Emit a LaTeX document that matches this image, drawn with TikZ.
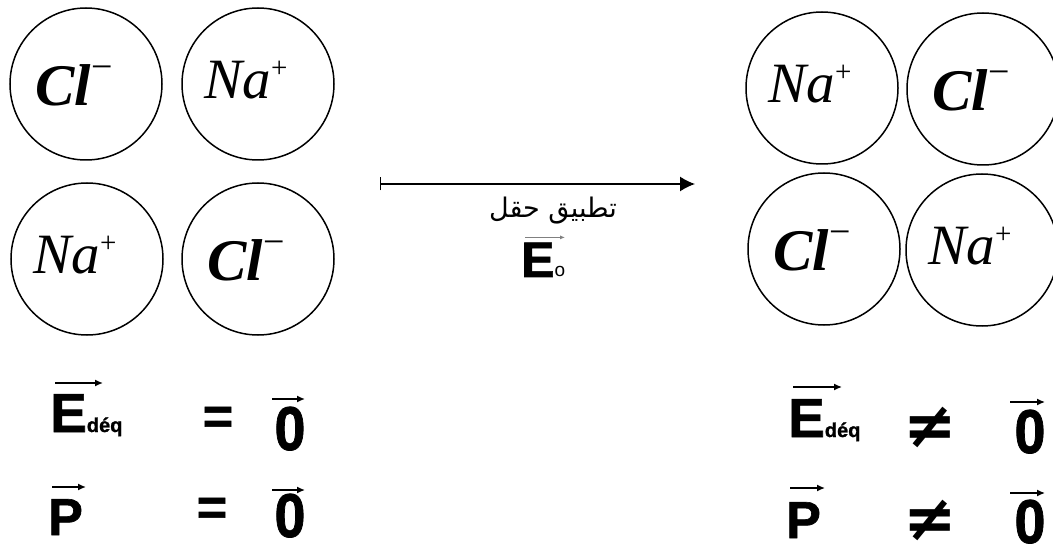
\documentclass[tikz,border=0pt]{standalone}
\usepackage{fontspec}
\setmainfont{Liberation Serif}
\newfontfamily\lsansbf{Liberation Sans Bold}[FakeBold=1.2]
\newfontfamily\lsanszero{Liberation Sans Bold}[FakeBold=1.2,FakeStretch=0.9]
\newfontfamily\lsans{Liberation Sans}
\newfontfamily\dvsansbf{DejaVu Sans Bold}
\newfontfamily\arabicfont[Script=Arabic]{DejaVu Sans}
\TeXXeTstate=1
\usetikzlibrary{arrows.meta,calc}
\newcommand\ClIon{{\fontsize{59}{59}\selectfont\bfseries\itshape Cl}\raisebox{26pt}{\fontsize{38}{38}\selectfont −}}
\newcommand\NaIon{{\fontsize{57}{57}\selectfont\itshape Na}\raisebox{21pt}{\fontsize{29}{29}\selectfont +}}
\tikzset{
  ion/.style={circle, draw, line width=1.5pt, minimum size=152pt, inner sep=0pt},
  lbl/.style={anchor=base, inner sep=0pt},
  bigsym/.style={inner sep=0pt, anchor=base, font=\lsansbf\fontsize{52}{52}\selectfont},
  zerosym/.style={inner sep=0pt, anchor=base, font=\lsanszero\fontsize{62}{62}\selectfont},
  neqsym/.style={inner sep=0pt, anchor=center, font=\dvsansbf\fontsize{64}{64}\selectfont},
  vecarrow/.style={-{Latex[length=8pt,width=7pt]}, line width=1.4pt},
  mainarrow/.style={{Bar[width=13pt]}-{Latex[length=15pt,width=15pt]}, line width=1.4pt},
}
\begin{document}
\begin{tikzpicture}[x=1pt,y=-1pt]
\useasboundingbox (0,0) rectangle (1053,548);
% circles left
\node[ion] (c1) at (86,84) {};
\node[ion] (c2) at (258,84) {};
\node[ion] (c3) at (87,259) {};
\node[ion] (c4) at (258,259) {};
% circles right
\node[ion] (c5) at (822,88) {};
\node[ion] (c6) at (983,89) {};
\node[ion] (c7) at (824,249) {};
\node[ion] (c8) at (982,250) {};
% labels
\node[lbl] (t1) at ($(c1)+(-12,22)$) {\ClIon};
\node[lbl] (t2) at ($(c2)+(-12,15)$) {\NaIon};
\node[lbl] (t3) at ($(c3)+(-12,15)$) {\NaIon};
\node[lbl] (t4) at ($(c4)+(-12,22)$) {\ClIon};
\node[lbl] (t5) at ($(c5)+(-12,15)$) {\NaIon};
\node[lbl] (t6) at ($(c6)+(-12,22)$) {\ClIon};
\node[lbl] (t7) at ($(c7)+(-12,22)$) {\ClIon};
\node[lbl] (t8) at ($(c8)+(-12,15)$) {\NaIon};
% main arrow
\coordinate (a0) at (380,184);
\coordinate (a1) at (695,184);
\draw[mainarrow] (a0) -- (a1);
\node[inner sep=0pt] (ar) at (553,211) {\arabicfont\fontsize{27}{27}\selectfont\beginR تطبيق حقل\endR};
\node[inner sep=0pt, anchor=base west] (Eo) at (521,277) {{\lsansbf\fontsize{50}{50}\selectfont E}{\lsans\fontsize{19}{19}\selectfont o}};
\draw[-{Latex[length=5pt,width=4pt]}, line width=0.8pt, gray] ($(Eo.north west)+(4,-5)$) -- +(40,0);
% bottom left
\node[bigsym, anchor=base west, font=\lsansbf\fontsize{55}{55}\selectfont] (Ed1) at (50,432) {E{\fontsize{20}{20}\selectfont déq}};
\node[bigsym] (eq1) at (218,434) {=};
\node[zerosym] (z1) at (290,450) {0};
\node[bigsym, anchor=base west] (P1) at (48,535) {P};
\node[bigsym] (eq2) at (212,525) {=};
\node[zerosym] (z2) at (290,537) {0};
% bottom right
\node[bigsym, anchor=base west, font=\lsansbf\fontsize{55}{55}\selectfont] (Ed2) at (788,437) {E{\fontsize{20}{20}\selectfont déq}};
\node[neqsym] (ne1) at (930,427) {≠};
\node[zerosym] (z3) at (1030,453) {0};
\node[bigsym, anchor=base west] (P2) at (786,538) {P};
\node[neqsym] (ne2) at (930,520) {≠};
\node[zerosym] (z4) at (1030,543) {0};
% vector arrows
\draw[vecarrow] (55,383) -- (103,383);
\draw[vecarrow] (272,399) -- (305,399);
\draw[vecarrow] (52,487) -- (86,487);
\draw[vecarrow] (272,490) -- (305,490);
\draw[vecarrow] (793,387) -- (842,387);
\draw[vecarrow] (1010,402) -- (1045,402);
\draw[vecarrow] (790,488) -- (825,488);
\draw[vecarrow] (1010,493) -- (1045,493);
\end{tikzpicture}
\end{document}
